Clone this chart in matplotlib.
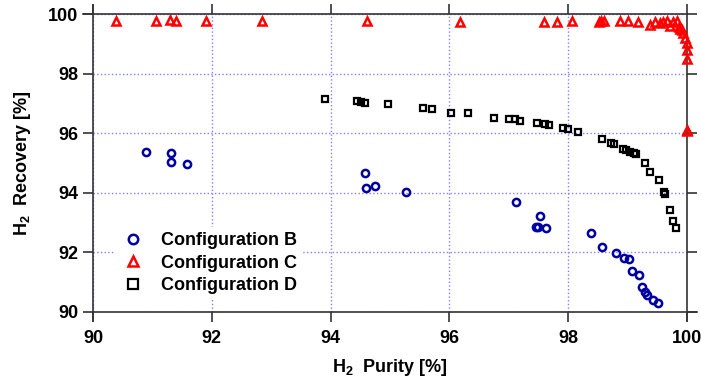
import numpy as np
import matplotlib
matplotlib.use("Agg")
import matplotlib.pyplot as plt

plt.rcParams['font.family'] = 'Liberation Sans'
plt.rcParams['font.weight'] = 'bold'
plt.rcParams['mathtext.fontset'] = 'custom'
plt.rcParams['mathtext.rm'] = 'Liberation Sans:bold'
plt.rcParams['mathtext.default'] = 'rm'

# Configuration B (purity, recovery)
b_purity = [90.89, 91.31, 91.32, 91.59, 94.58, 94.60, 94.74, 95.27, 97.12, 97.53,
            97.46, 97.50, 97.63, 98.38, 98.57, 98.81, 98.94, 99.03, 99.07, 99.19,
            99.25, 99.29, 99.33, 99.42, 99.52]
b_recovery = [95.37, 95.32, 95.02, 94.98, 94.65, 94.16, 94.23, 94.04, 93.69, 93.22,
              92.86, 92.86, 92.83, 92.64, 92.17, 91.99, 91.82, 91.79, 91.38, 91.23,
              90.84, 90.66, 90.57, 90.39, 90.29]

# Configuration C
c_purity = [90.38, 91.06, 91.30, 91.40, 91.91, 92.85, 94.61, 96.18, 97.59, 97.82,
            98.07, 98.52, 98.56, 98.60, 98.88, 99.01, 99.18, 99.38, 99.46, 99.55,
            99.60, 99.66, 99.71, 99.76, 99.83, 99.86, 99.89, 99.91, 99.94, 99.97,
            100.0, 100.0, 100.0, 100.0, 100.0]
c_recovery = [99.78, 99.78, 99.80, 99.78, 99.78, 99.78, 99.76, 99.74, 99.74, 99.74,
              99.76, 99.74, 99.76, 99.78, 99.76, 99.76, 99.74, 99.62, 99.74, 99.69,
              99.72, 99.76, 99.61, 99.72, 99.76, 99.57, 99.50, 99.46, 99.35, 99.20,
              99.02, 98.80, 98.48, 96.12, 96.06]

# Configuration D
d_purity = [93.91, 94.45, 94.51, 94.58, 94.97, 95.56, 95.71, 96.02, 96.32, 96.75,
            97.01, 97.10, 97.19, 97.47, 97.61, 97.67, 97.92, 98.00, 98.17, 98.57,
            98.72, 98.77, 98.93, 98.98, 99.04, 99.10, 99.14, 99.29, 99.38, 99.53,
            99.62, 99.63, 99.71, 99.76, 99.81]
d_recovery = [97.15, 97.08, 97.06, 97.02, 96.98, 96.86, 96.80, 96.67, 96.67, 96.52,
              96.49, 96.47, 96.41, 96.35, 96.30, 96.28, 96.16, 96.13, 96.05, 95.81,
              95.68, 95.63, 95.46, 95.44, 95.38, 95.33, 95.29, 94.99, 94.69, 94.43,
              94.02, 93.96, 93.42, 93.06, 92.81]

fig = plt.figure(figsize=(7.01, 3.80), dpi=100)
ax = fig.add_axes([0.1327, 0.179, 0.8473, 0.784])

ax.plot(b_purity, b_recovery, 'o', ls='none', ms=5.2, mfc='none', mec='#0000a0', mew=1.8,
        label='Configuration B', clip_on=False, zorder=3)
ax.plot(c_purity, c_recovery, '^', ls='none', ms=5.8, mfc='none', mec='red', mew=1.8,
        label='Configuration C', clip_on=False, zorder=3)
ax.plot(d_purity, d_recovery, 's', ls='none', ms=5.0, mfc='none', mec='black', mew=1.6,
        label='Configuration D', clip_on=False, zorder=3)

ax.set_xlim(90, 100)
ax.set_ylim(90, 100)
ax.set_xticks(np.arange(90, 101, 2))
ax.set_yticks(np.arange(90, 101, 2))
ax.grid(True, color='#8080ff', linestyle=':', linewidth=1)
ax.set_axisbelow(True)

ax.tick_params(direction='out', length=7, width=1.2, labelsize=13,
               top=True, right=True, labeltop=False, labelright=False, color='#333333')
ax.tick_params(axis='x', pad=6)
ax.tick_params(axis='y', pad=3.5)
for lbl in ax.get_xticklabels() + ax.get_yticklabels():
    lbl.set_fontweight('bold')

for s in ax.spines.values():
    s.set_linewidth(1.2)
    s.set_color('#333333')
ax.spines['bottom'].set_bounds(90, 100.17)
ax.spines['top'].set_bounds(89.83, 100)
ax.spines['left'].set_bounds(89.7, 100.3)
ax.spines['right'].set_bounds(89.7, 100)

ax.set_xlabel('H$_2$  Purity [%]', fontsize=13, fontweight='bold', labelpad=7)
ax.set_ylabel('H$_2$  Recovery [%]', fontsize=13, fontweight='bold')
ax.yaxis.set_label_coords(-0.101, 0.5)

leg = ax.legend(loc='lower left', bbox_to_anchor=(0.02, 0.012), frameon=True,
                facecolor='white', edgecolor='none', framealpha=1, fancybox=False,
                prop={'size': 13, 'weight': 'bold'}, handletextpad=0.8, markerscale=1.3,
                labelspacing=0.3, borderpad=0.3, handlelength=1.5)

fig.savefig('out.png', dpi=100)
